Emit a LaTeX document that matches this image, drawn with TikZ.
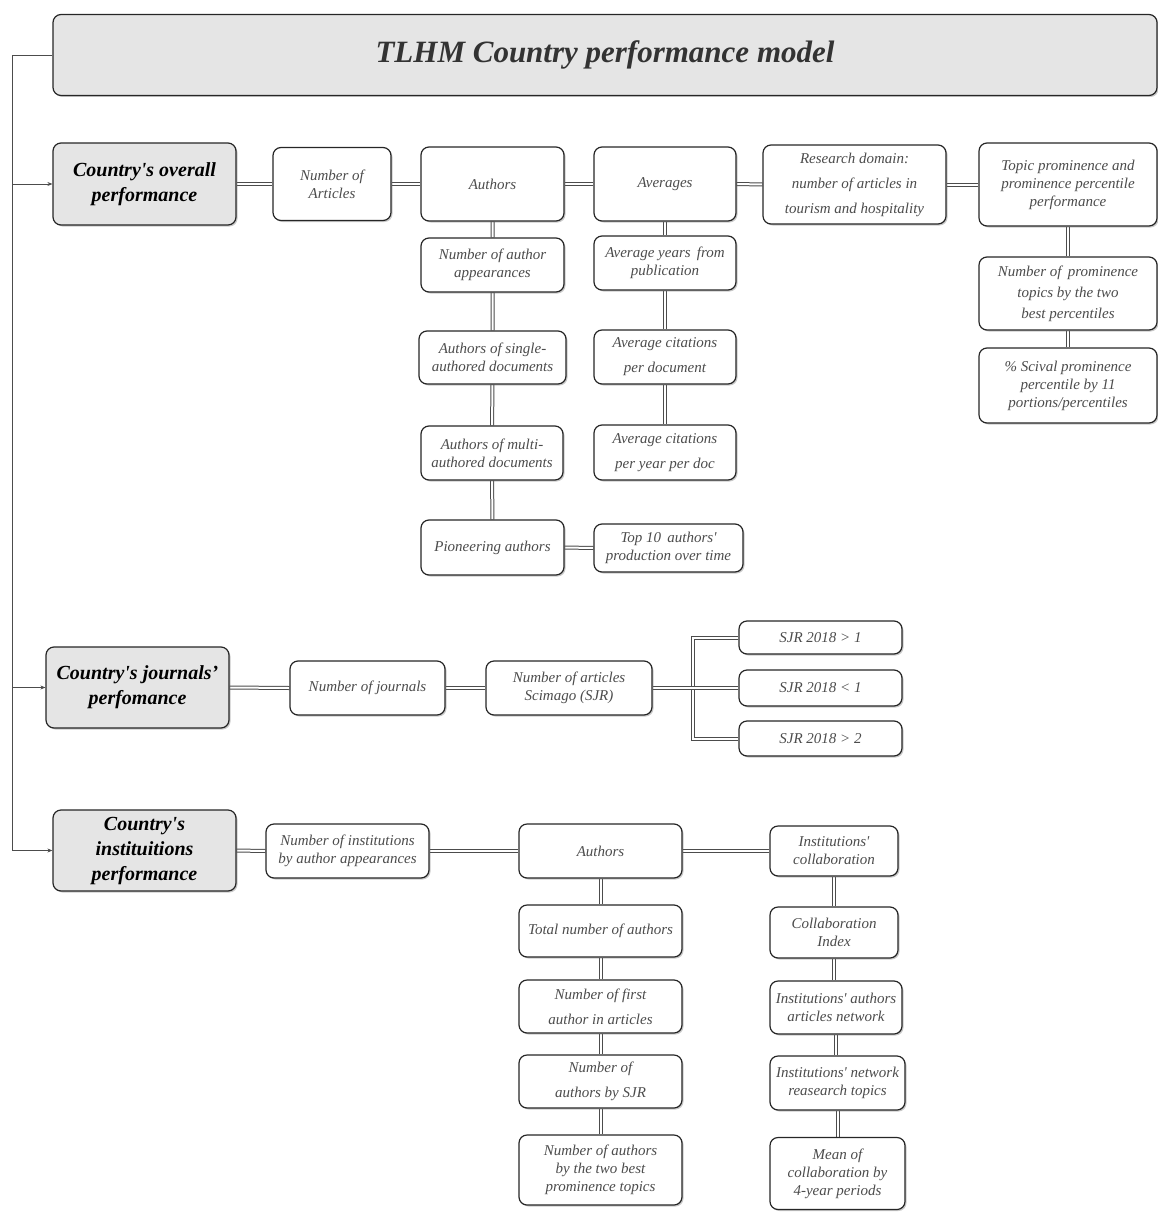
\documentclass[tikz,border=0pt]{standalone}
\usepackage{fontspec}
\setmainfont{Liberation Serif}
\usetikzlibrary{arrows.meta,shadows,backgrounds}
\tikzset{
  box/.style={draw=black!85, line width=1.2pt, rounded corners=8pt, fill=white,
    align=center, inner sep=2pt, font=\fontsize{15}{18}\selectfont\itshape, text=black!70,
    drop shadow={shadow xshift=1.5pt, shadow yshift=-1.5pt, opacity=0.35, fill=black!60}},
  mainbox/.style={box, fill=black!10, font=\fontsize{20}{25}\selectfont\bfseries\itshape, text=black},
  wh/.style 2 args={minimum width=#1pt, minimum height=#2pt},
  link/.style={draw=black!70, double=white, double distance=2pt, line width=1pt},
  rail/.style={draw=black!70, line width=0.9pt},
  railarrow/.style={rail, -{Stealth[length=5pt,width=4pt]}},
}
\newcommand{\sq}{\textquotesingle}
\begin{document}
\begin{tikzpicture}[x=1pt,y=-1pt]
    \useasboundingbox (0,0) rectangle (1158,1212);

    % Title
    \node[mainbox, wh={1104}{81}, font=\fontsize{31}{36}\selectfont\bfseries\itshape, text=black!80] (title) at (605,55) {TLHM Country performance model};

    % Country's overall performance
    \node[mainbox, wh={183}{82}] (overall) at (144.5,184) {Country\sq s overall\\performance};
    \node[box, wh={118}{73}] (articles) at (332,184) {Number of\\Articles};
    \node[box, wh={143}{74}] (authA) at (492.5,184) {Authors};
    \node[box, wh={142}{74}] (avg) at (665,184) {Averages};
    \node[box, wh={183}{79}] (domain) at (854.5,184.5) {Research domain:\\[7pt]number of articles in\\[7pt]tourism and hospitality};
    \node[box, wh={178}{83}] (topic) at (1068,184.5) {Topic prominence and\\prominence percentile\\performance};
        % below Authors
        \node[box, wh={143}{54}] (appear) at (492.5,265) {Number of author\\appearances};
        \node[box, wh={147}{53}] (single) at (492.5,357.5) {Authors of single-\\authored documents};
        \node[box, wh={142}{54}] (multi) at (492,453) {Authors of multi-\\authored documents};
        \node[box, wh={143}{55}] (pioneer) at (492.5,547.5) {Pioneering authors};
        \node[box, wh={149}{48}] (topten) at (668.5,548) {Top 10\, authors\sq\\production over time};
        % below Averages
        \node[box, wh={142}{54}] (avgyears) at (665,263) {Average years\, from\\publication};
        \node[box, wh={142}{54}] (avgcit) at (665,357) {Average citations\\[7pt]per document};
        \node[box, wh={142}{55}] (avgcityr) at (665,452.5) {Average citations\\[7pt]per year per doc};
        % below Topic prominence
        \node[box, wh={178}{73}] (prom) at (1068,293.5) {Number of\, prominence\\[3pt]topics by the two\\[3pt]best percentiles};
        \node[box, wh={178}{75}] (scival) at (1068,385.5) {\% Scival prominence\\percentile by 11\\portions/percentiles};

    % Country's journals' performance
    \node[mainbox, wh={183}{81}] (journals) at (137.5,687.5) {Country\sq s journals’\\perfomance};
    \node[box, wh={155}{54}] (numjour) at (367.5,688) {Number of journals};
    \node[box, wh={166}{54}] (scimago) at (569,688) {Number of articles\\Scimago (SJR)};
    \node[box, wh={163}{33}] (sjrA) at (820.5,637.5) {SJR 2018 > 1};
    \node[box, wh={163}{36}] (sjrB) at (820.5,688) {SJR 2018 < 1};
    \node[box, wh={163}{35}] (sjrC) at (820.5,738.5) {SJR 2018 > 2};
    \coordinate (fork) at (693,688);

    % Country's instituitions performance
    \node[mainbox, wh={183}{81}] (inst) at (144.5,850.5) {Country\sq s\\instituitions\\performance};
    \node[box, wh={163}{54}] (numinst) at (347.5,851) {Number of institutions\\by author appearances};
    \node[box, wh={163}{54}] (authB) at (600.5,851) {Authors};
    \node[box, wh={128}{50}] (collab) at (834,851) {Institutions\sq\\collaboration};
        % below Authors
        \node[box, wh={163}{52}] (total) at (600.5,931) {Total number of authors};
        \node[box, wh={163}{53}] (first) at (600.5,1006.5) {Number of first\\[7pt]author in articles};
        \node[box, wh={163}{53}] (bysjr) at (600.5,1081.5) {Number of\\[7pt]authors by SJR};
        \node[box, wh={163}{70}] (bytwo) at (600.5,1170) {Number of authors\\by the two best\\prominence topics};
        % below collaboration
        \node[box, wh={128}{51}] (index) at (834,932.5) {Collaboration\\Index};
        \node[box, wh={132}{53}] (network) at (836,1007.5) {Institutions\sq\ authors\\articles network};
        \node[box, wh={135}{54}] (nettopics) at (837.5,1083) {Institutions\sq\ network\\reasearch topics};
        \node[box, wh={135}{72}] (mean) at (837.5,1173.5) {Mean of\\collaboration by\\4-year periods};

    % Left rail
    \coordinate (railtop) at (12,55);
    \draw[railarrow] (title.west) -- (railtop) |- (inst.west);
    \draw[railarrow] (railtop |- overall.west) -- (overall.west);
    \draw[railarrow] (railtop |- journals.west) -- (journals.west);

    % Double links
    \begin{scope}[on background layer]
        \draw[link] (overall.east) -- (articles.west);
        \draw[link] (articles.east) -- (authA.west);
        \draw[link] (authA.east) -- (avg.west);
        \draw[link] (avg.east) -- (domain.west);
        \draw[link] (domain.east) -- (topic.west);
        \draw[link] (authA) -- (appear) -- (single) -- (multi) -- (pioneer);
        \draw[link] (pioneer.east) -- (topten.west);
        \draw[link] (avg) -- (avgyears) -- (avgcit) -- (avgcityr);
        \draw[link] (topic) -- (prom) -- (scival);

        \draw[link] (journals.east) -- (numjour.west);
        \draw[link] (numjour.east) -- (scimago.west);
        \draw[link] (sjrA.west) -| (fork) |- (sjrC.west);
        \draw[link] (scimago.east) -- (sjrB.west);

        \draw[link] (inst.east) -- (numinst.west);
        \draw[link] (numinst.east) -- (authB.west);
        \draw[link] (authB.east) -- (collab.west);
        \draw[link] (authB) -- (total) -- (first) -- (bysjr) -- (bytwo);
        \draw[link] (collab.south) -- (collab.south |- index.north);
        \draw[link] (index.south) -- (index.south |- network.north);
        \draw[link] (network.south) -- (network.south |- nettopics.north);
        \draw[link] (nettopics.south) -- (nettopics.south |- mean.north);
    \end{scope}
\end{tikzpicture}
\end{document}
